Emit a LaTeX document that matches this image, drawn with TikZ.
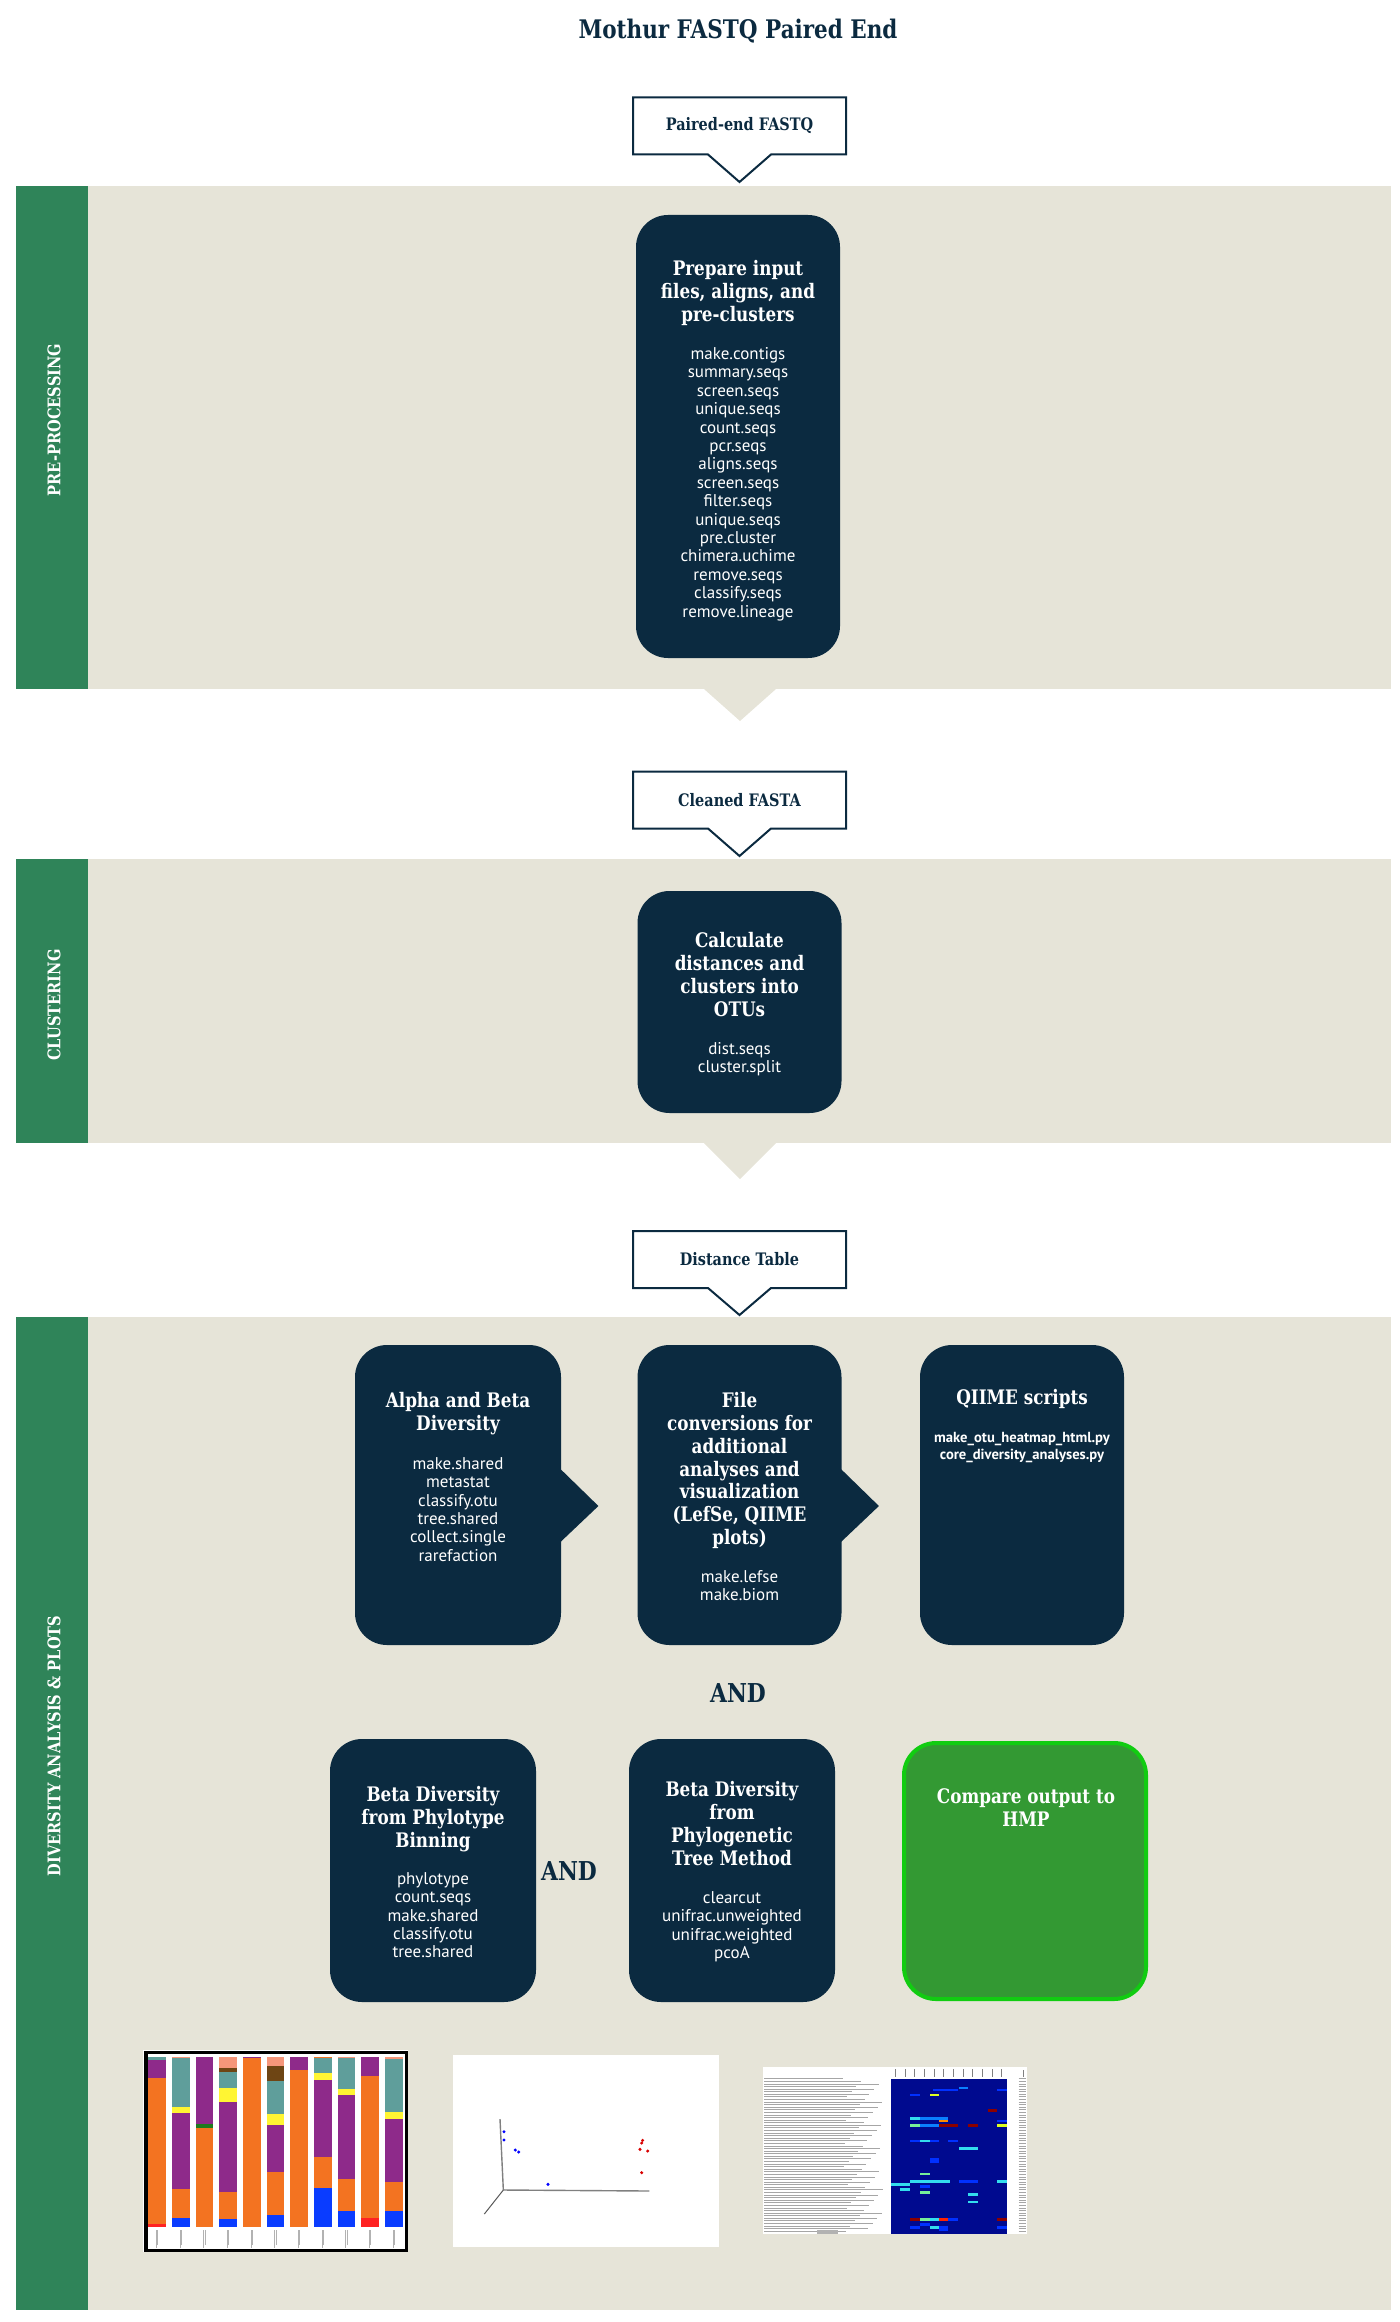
\documentclass[tikz,border=0pt]{standalone}
\usepackage{fontspec}
\setmainfont{PT Sans}
\newfontfamily\headfont{DejaVu Serif}[FakeStretch=0.84]
\usetikzlibrary{shapes.callouts,calc}

\definecolor{navy}{HTML}{0B2A40}
\definecolor{bandgray}{HTML}{E6E4D8}
\definecolor{stripgreen}{HTML}{2F8459}
\definecolor{hmpgreen}{HTML}{339933}
\definecolor{hmpedge}{HTML}{11CC11}
% bar chart colours
\definecolor{bcorange}{HTML}{F37321}
\definecolor{bcpurple}{HTML}{8E2A8A}
\definecolor{bcteal}{HTML}{5F9E9B}
\definecolor{bcyellow}{HTML}{FFF533}
\definecolor{bcblue}{HTML}{0A3CFF}
\definecolor{bcsalmon}{HTML}{F6967A}
\definecolor{bcbrown}{HTML}{6E4514}
\definecolor{bcgreen}{HTML}{1E7A1E}
\definecolor{bcred}{HTML}{FF2222}
% heatmap colours
\definecolor{hmnavy}{HTML}{000A8F}
\definecolor{hmblue}{HTML}{0030FF}
\definecolor{hmlblue}{HTML}{0A7FFF}
\definecolor{hmcyan}{HTML}{33DDEE}
\definecolor{hmlgreen}{HTML}{77EE99}
\definecolor{hmyellow}{HTML}{DDFF22}
\definecolor{hmorange}{HTML}{FF8C00}
\definecolor{hmred}{HTML}{FF2200}
\definecolor{hmdred}{HTML}{8B0000}

\tikzset{
  procbox/.style={fill=navy, rounded corners=16pt, minimum width=102pt, inner sep=0pt},
  headtxt/.style={text=white, font=\headfont\bfseries\fontsize{10}{11.4}\selectfont, align=center, anchor=north, inner sep=0pt},
  bodytxt/.style={text=white, font=\fontsize{8.5}{9.2}\selectfont, align=center, anchor=north, inner sep=0pt},
  callbox/.style={rectangle callout, draw=navy, line width=1pt, fill=white, minimum width=106.5pt, minimum height=28.5pt,
    callout pointer width=31.5pt, text=navy, font=\headfont\bfseries\fontsize{8.6}{10}\selectfont},
  striplabel/.style={rotate=90, text=white, font=\headfont\bfseries\fontsize{8.7}{10}\selectfont, inner sep=0pt},
  andtxt/.style={text=navy, font=\headfont\bfseries\fontsize{13}{15}\selectfont, inner sep=0pt},
}

\begin{document}
\begin{tikzpicture}[x=0.5pt,y=-0.5pt]
\useasboundingbox (0,0) rectangle (1400,2322);

% title
\node[text=navy, font=\headfont\bfseries\fontsize{12.8}{15}\selectfont] (title) at (738,31) {Mothur FASTQ Paired End};

% bands
\fill[bandgray] (88,186) rectangle (1391,689);
\fill[stripgreen] (16,186) rectangle (88,689);
\fill[bandgray] (704,689) -- (776,689) -- (740,721) -- cycle;
\fill[bandgray] (88,859) rectangle (1391,1143);
\fill[stripgreen] (16,859) rectangle (88,1143);
\fill[bandgray] (704,1143) -- (776,1143) -- (740,1179) -- cycle;
\fill[bandgray] (88,1317) rectangle (1391,2310);
\fill[stripgreen] (16,1317) rectangle (88,2310);

\node[striplabel] (preproc) at (54,420) {PRE-PROCESSING};
\node[striplabel] (cluster) at (54,1005) {CLUSTERING};
\node[striplabel] (divers) at (54,1746) {DIVERSITY ANALYSIS \& PLOTS};

% callouts
\node[callbox, callout absolute pointer={(739.5,182)}] (fastq) at (739.5,126) {Paired-end FASTQ};
\node[callbox, callout absolute pointer={(739.5,856)}] (fasta) at (739.5,800) {Cleaned FASTA};
\node[callbox, callout absolute pointer={(739.5,1315)}] (disttab) at (739.5,1259.5) {Distance Table};

% pre-processing
\node[procbox, minimum height=221.5pt] (prep) at (738,436.5) {};
\node[headtxt] (prephead) at (738,260) {Prepare input\\files, aligns, and\\pre-clusters};
\node[bodytxt] (prepbody) at (738,347) {make.contigs\\summary.seqs\\screen.seqs\\unique.seqs\\count.seqs\\pcr.seqs\\aligns.seqs\\screen.seqs\\filter.seqs\\unique.seqs\\pre.cluster\\chimera.uchime\\remove.seqs\\classify.seqs\\remove.lineage};

% clustering
\node[procbox, minimum height=111pt] (calc) at (739.5,1002) {};
\node[headtxt] (calchead) at (739.5,932) {Calculate\\distances and\\clusters into\\OTUs};
\node[bodytxt] (calcbody) at (739.5,1042) {dist.seqs\\cluster.split};

% diversity, first row
\node[procbox, minimum width=103pt, minimum height=150pt] (alpha) at (458,1495) {};
\node[procbox, minimum height=150pt] (file) at (739.5,1495) {};
\node[procbox, minimum height=150pt] (qiime) at (1022,1495) {};
\fill[navy] ($(alpha.east)+(-2,-27)$) -- ($(alpha.east)+(37,11)$) -- ($(alpha.east)+(-2,48)$) -- cycle;
\fill[navy] ($(file.east)+(-2,-27)$) -- ($(file.east)+(37,11)$) -- ($(file.east)+(-2,48)$) -- cycle;
\node[headtxt] (alphahead) at (458,1392) {Alpha and Beta\\Diversity};
\node[bodytxt] (alphabody) at (458,1457) {make.shared\\metastat\\classify.otu\\tree.shared\\collect.single\\rarefaction};
\node[headtxt] (filehead) at (739.5,1392) {File\\conversions for\\additional\\analyses and\\visualization\\(LefSe, QIIME\\plots)};
\node[bodytxt] (filebody) at (739.5,1570) {make.lefse\\make.biom};
\node[headtxt] (qiimehead) at (1022,1389) {QIIME scripts};
\node[bodytxt, font=\bfseries\fontsize{7.3}{8.5}\selectfont] (qiimebody) at (1022,1432) {make\_otu\_heatmap\_html.py\\core\_diversity\_analyses.py};

\node[andtxt] (and1) at (738,1693) {AND};

% diversity, second row
\node[procbox, minimum width=103pt, minimum height=131.5pt] (phylo) at (433,1870.5) {};
\node[procbox, minimum width=103pt, minimum height=131.5pt] (tree) at (732,1870.5) {};
\node[procbox, fill=hmpgreen, draw=hmpedge, line width=2pt, minimum width=121pt, minimum height=128pt] (hmp) at (1025,1871) {};
\node[headtxt] (phylohead) at (433,1786) {Beta Diversity\\from Phylotype\\Binning};
\node[bodytxt] (phylobody) at (433,1872) {phylotype\\count.seqs\\make.shared\\classify.otu\\tree.shared};
\node[headtxt] (treehead) at (732,1781) {Beta Diversity\\from\\Phylogenetic\\Tree Method};
\node[bodytxt] (treebody) at (732,1891) {clearcut\\unifrac.unweighted\\unifrac.weighted\\pcoA};
\node[headtxt] (hmphead) at (1026,1788) {Compare output to\\HMP};
\node[andtxt] (and2) at (569,1871) {AND};

% bar chart
\begin{scope}[shift={(140,2045)},scale=1/3]
  \fill[white] (10,15) rectangle (805,622);
  \foreach \i/\segs in {
    0/{bcteal/35/45,bcpurple/45/100,bcorange/100/538,bcred/538/545},
    1/{bcsalmon/35/40,bcteal/40/185,bcyellow/185/205,bcpurple/205/432,bcorange/432/520,bcblue/520/545},
    2/{bcpurple/35/238,bcgreen/238/248,bcorange/248/545},
    3/{bcsalmon/35/70,bcbrown/70/80,bcteal/80/130,bcyellow/130/172,bcpurple/172/442,bcorange/442/523,bcblue/523/545},
    4/{bcpurple/35/40,bcorange/40/545},
    5/{bcsalmon/35/63,bcbrown/63/107,bcteal/107/208,bcyellow/208/240,bcpurple/240/380,bcorange/380/510,bcblue/510/545},
    6/{bcpurple/35/75,bcorange/75/545},
    7/{bcorange/35/40,bcteal/40/85,bcyellow/85/105,bcpurple/105/337,bcorange/337/428,bcblue/428/545},
    8/{bcsalmon/35/38,bcteal/38/132,bcyellow/132/150,bcpurple/150/403,bcorange/403/498,bcblue/498/545},
    9/{bcpurple/35/93,bcorange/93/518,bcred/518/545},
    10/{bcsalmon/35/42,bcteal/42/200,bcyellow/200/222,bcpurple/222/410,bcorange/410/498,bcblue/498/545}}
  {
    \foreach \c/\t/\b in \segs
      \fill[\c] ({25+71*\i},\t) rectangle ({78+71*\i},\b);
    \draw[gray!60, line width=0.3pt] ({49+71*\i},556) -- ({49+71*\i},608);
    \draw[gray!60, line width=0.3pt] ({53+71*\i},556) -- ({53+71*\i},600);
  }
  \draw[line width=1.7pt] (18,23) rectangle (800,616);
\end{scope}

% pcoa plot
\begin{scope}[shift={(450,2050)},scale=1/3]
  \fill[white] (10,15) rectangle (806,590);
  \draw[gray, line width=0.7pt] (150,207) -- (160,420) -- (598,423);
  \draw[gray!70!black, line width=0.5pt] (160,420) -- (103,492);
  \foreach \px/\py in {162/245,162/270,196/300,206/306,294/403}
    \fill[blue] (\px,\py) circle[radius=5];
  \foreach \px/\py in {578/271,575/279,570/298,593/303,575/368}
    \fill[red!85!black] (\px,\py) circle[radius=5];
\end{scope}

% heatmap
\begin{scope}[shift={(760,2060)},scale=1/3]
  \fill[white] (8,22) rectangle (802,522);
  \fill[hmnavy] (392,57) rectangle (742,522);
  \foreach \cy/\xa/\xb/\c in {84/598/625/hmlblue, 90/520/595/hmblue, 90/712/742/hmblue, 105/450/480/hmblue,
    105/510/538/hmyellow, 152/685/712/hmdred, 175/450/480/hmcyan, 175/480/565/hmlblue, 183/538/565/hmorange,
    183/712/742/hmblue, 197/450/480/hmlgreen, 197/480/538/hmlblue, 197/538/595/hmdred, 197/625/655/hmdred,
    197/712/742/hmyellow, 243/450/480/hmblue, 243/480/510/hmcyan, 243/510/538/hmblue, 243/565/595/hmblue,
    266/598/655/hmcyan, 297/510/538/hmblue, 305/510/538/hmblue, 342/480/510/hmlgreen, 365/450/570/hmcyan,
    365/598/655/hmblue, 365/712/742/hmcyan, 373/392/450/hmcyan, 380/480/510/hmblue, 388/420/450/hmcyan,
    397/480/510/hmlgreen, 404/625/655/hmcyan, 426/625/655/hmcyan, 479/450/480/hmdred, 479/480/510/hmlgreen,
    479/510/538/hmcyan, 479/538/565/hmred, 479/565/595/hmblue, 479/712/742/hmdred, 493/480/510/hmblue,
    502/450/480/hmblue, 502/510/538/hmcyan, 502/538/565/hmblue, 502/712/742/hmblue, 510/538/565/hmblue}
    \fill[\c] (\xa,{\cy-4}) rectangle (\xb,{\cy+4});
  \foreach \r in {0,...,59}{
    \pgfmathsetmacro\len{250+mod(\r*53,120)}
    \draw[gray!70, line width=0.3pt] (12,{56+7.75*\r}) -- (\len,{56+7.75*\r});
    \draw[gray!70, line width=0.3pt] (776,{56+7.75*\r}) -- (798,{56+7.75*\r});
  }
  \foreach \k in {0,...,11}
    \draw[gray, line width=0.3pt] ({406+29*\k},28) -- ({406+29*\k},52);
  \draw[gray, line width=0.3pt] (790,30) -- (790,52);
  \fill[gray!60] (172,510) rectangle (235,521);
\end{scope}
\end{tikzpicture}
\end{document}
